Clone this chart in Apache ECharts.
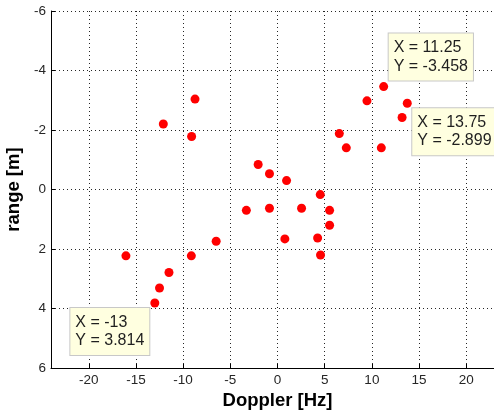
<!DOCTYPE html>
<html>
<head>
<meta charset="utf-8">
<title>range vs Doppler</title>
<script src="https://cdn.jsdelivr.net/npm/echarts@6/dist/echarts.min.js"></script>
<style>
  html, body { margin: 0; padding: 0; background: #fff; }
  #chart { width: 494px; height: 418px; }
</style>
</head>
<body>
<div id="chart"></div>
<script>
// Detected targets: Doppler shift [Hz] and range [m]
const doppler = [
  -12.1, -8.74, -9.1, -16.06, -9.13, -6.5, -11.5, -12.5, -13,
  -3.3, -2.05, -0.85, 0.96, -0.85, 2.55, 4.53, 5.52, 5.52,
  0.78, 4.25, 4.56, 6.55, 7.29, 11.0, 9.48, 11.25, 13.75, 13.2
];
const range = [
  -2.2, -3.04, -1.78, 2.23, 2.23, 1.74, 2.79, 3.31, 3.814,
  0.7, -0.84, -0.53, -0.3, 0.63, 0.63, 0.17, 0.7, 1.2,
  1.66, 1.63, 2.2, -1.88, -1.4, -1.4, -2.98, -3.458, -2.899, -2.42
];

// Indices of the points that carry a data-tip box
const tipIndex = [25, 26, 8];

// Axis limits and tick labels
const xLimits = [-24, 24];
const xTicks = [-20, -15, -10, -5, 0, 5, 10, 15, 20];
const yLimits = [-6, 6];
const yTickStep = 2;

// Where each data tip box sits relative to its point
const tipPlacement = [
  { position: [6, -5], align: 'left', verticalAlign: 'bottom' },
  { position: [6, 6], align: 'left', verticalAlign: 'top' },
  { position: [-4.5, 6], align: 'right', verticalAlign: 'top' }
];

const points = doppler.map((d, i) => [d, range[i]]);
const tips = tipIndex.map((idx, k) => ({
  value: points[idx],
  label: Object.assign({ show: true }, tipPlacement[k])
}));

const FONT = 'Arial, "Liberation Sans", Helvetica, sans-serif';
const gridLine = { show: true, lineStyle: { color: '#262626', width: 1, type: [1, 3] } };
const tipText = { fontFamily: FONT, fontSize: 16, lineHeight: 18.5, color: '#1f1f1f', align: 'left' };

const chart = echarts.init(document.getElementById('chart'), null, { renderer: 'canvas' });
chart.setOption({
  animation: false,
  backgroundColor: '#ffffff',
  grid: {
    left: 51, top: 11, bottom: 50, width: 453,
    containLabel: false,
    outerBoundsMode: 'none'
  },
  xAxis: {
    type: 'value',
    min: xLimits[0],
    max: xLimits[1],
    splitNumber: 10,
    name: 'Doppler [Hz]',
    nameLocation: 'middle',
    nameGap: 22,
    nameTextStyle: { fontFamily: FONT, fontWeight: 'bold', fontSize: 18.5, color: '#000' },
    axisLine: { show: true, onZero: false, lineStyle: { color: '#000', width: 1 } },
    axisTick: { show: true, inside: true, length: 4, lineStyle: { color: '#000' } },
    axisLabel: {
      fontFamily: FONT, fontSize: 13.5, color: '#262626', margin: 5,
      showMinLabel: false, showMaxLabel: false,
      formatter: v => (xTicks.indexOf(v) >= 0 ? String(v) : '')
    },
    splitLine: gridLine
  },
  yAxis: {
    type: 'value',
    inverse: true,
    min: yLimits[0],
    max: yLimits[1],
    interval: yTickStep,
    name: 'range [m]',
    nameLocation: 'middle',
    nameGap: 19,
    nameTextStyle: { fontFamily: FONT, fontWeight: 'bold', fontSize: 18.5, color: '#000' },
    axisLine: { show: true, onZero: false, lineStyle: { color: '#000', width: 1 } },
    axisTick: { show: true, inside: true, length: 4, lineStyle: { color: '#000' } },
    axisLabel: { fontFamily: FONT, fontSize: 13.5, color: '#262626', margin: 5 },
    splitLine: gridLine
  },
  series: [
    {
      type: 'scatter',
      data: points,
      symbol: 'circle',
      symbolSize: 9,
      itemStyle: { color: '#ff0000', opacity: 1 },
      z: 3
    },
    {
      type: 'scatter',
      data: tips,
      symbolSize: 2,
      itemStyle: { color: 'rgba(0,0,0,0)', opacity: 1 },
      silent: true,
      z: 5,
      label: {
        show: true,
        formatter: p => '{t|X = ' + String(p.value[0]) + '}\n{t|Y = ' + String(p.value[1]) + '}',
        fontFamily: FONT,
        fontSize: 16,
        lineHeight: 18.5,
        color: '#1f1f1f',
        backgroundColor: '#ffffe0',
        borderColor: '#c8c8c8',
        borderWidth: 1,
        padding: [5, 5, 5, 5],
        rich: { t: tipText }
      }
    }
  ]
});
</script>
</body>
</html>
